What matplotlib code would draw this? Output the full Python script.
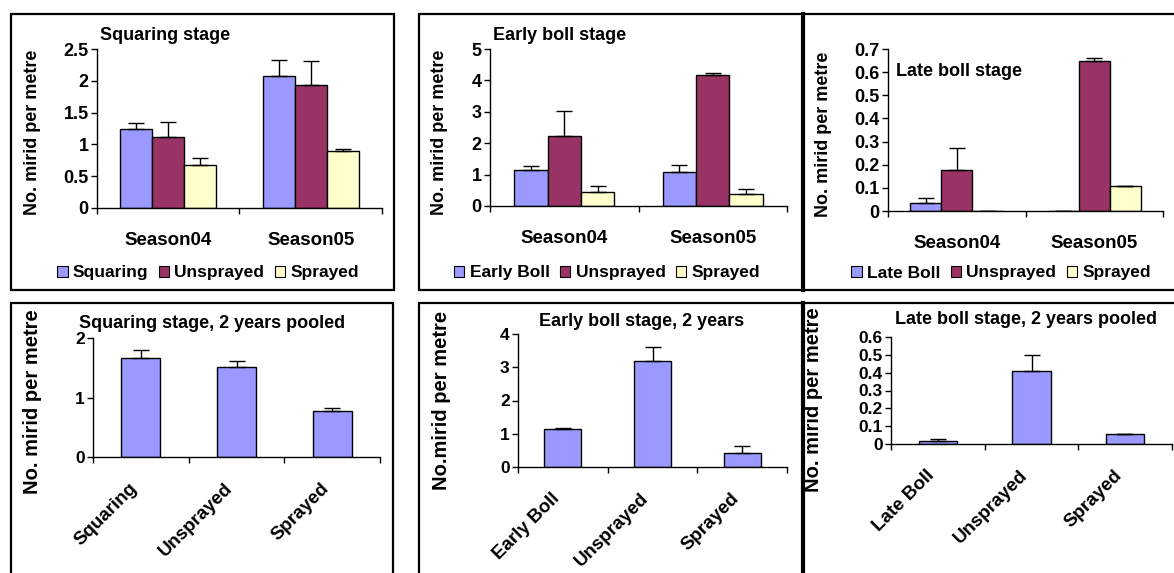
"""Six-panel mirid counts per metre: per season and pooled over two years."""

import matplotlib.pyplot as plt
from matplotlib.patches import Patch, Rectangle
from matplotlib.ticker import FuncFormatter

W, H = 1174, 573

seasons = ["Season04", "Season05"]

# squaring stage, per season
sq_squaring = [1.24, 2.07]
sq_squaring_err = [0.09, 0.26]
sq_unsprayed = [1.11, 1.94]
sq_unsprayed_err = [0.24, 0.37]
sq_sprayed = [0.68, 0.89]
sq_sprayed_err = [0.11, 0.03]

# early boll stage, per season
eb_early = [1.15, 1.09]
eb_early_err = [0.11, 0.22]
eb_unsprayed = [2.23, 4.18]
eb_unsprayed_err = [0.81, 0.06]
eb_sprayed = [0.44, 0.38]
eb_sprayed_err = [0.21, 0.16]

# late boll stage, per season
lb_late = [0.036, 0.0]
lb_late_err = [0.022, 0.0]
lb_unsprayed = [0.176, 0.649]
lb_unsprayed_err = [0.097, 0.013]
lb_sprayed = [0.0, 0.108]
lb_sprayed_err = [0.0, 0.001]

# two years pooled
sq_pool_labels = ["Squaring", "Unsprayed", "Sprayed"]
sq_pool = [1.66, 1.52, 0.77]
sq_pool_err = [0.14, 0.10, 0.06]
eb_pool_labels = ["Early Boll", "Unsprayed", "Sprayed"]
eb_pool = [1.13, 3.20, 0.42]
eb_pool_err = [0.05, 0.42, 0.20]
lb_pool_labels = ["Late Boll", "Unsprayed", "Sprayed"]
lb_pool = [0.019, 0.41, 0.054]
lb_pool_err = [0.007, 0.09, 0.001]

BLUE = "#9999ff"
PLUM = "#993366"
CREAM = "#ffffcc"

plt.rcParams.update(
    {
        "font.family": ["Liberation Sans", "DejaVu Sans"],
        "font.weight": "bold",
        "axes.labelweight": "bold",
        "axes.linewidth": 1.0,
        "xtick.major.width": 1.0,
        "ytick.major.width": 1.0,
    }
)

fig = plt.figure(figsize=(W / 100, H / 100), dpi=100)


def fx(px):
    return px / W


def fy(py):
    return 1 - py / H


def px_axes(left, top, right, bottom):
    return fig.add_axes([fx(left), fy(bottom), fx(right - left), (bottom - top) / H])


def frame(x0, y0, x1, y1, lw=1.6):
    fig.add_artist(
        Rectangle((fx(x0), fy(y1)), fx(x1 - x0), (y1 - y0) / H,
                  transform=fig.transFigure, fill=False, ec="black", lw=lw)
    )


def style_axis(ax, ncat, ymax, ystep, tick_size):
    ax.set_xlim(0, ncat)
    ax.set_ylim(0, ymax)
    ax.spines["top"].set_visible(False)
    ax.spines["right"].set_visible(False)
    ax.set_xticks(range(ncat + 1))
    ax.set_xticklabels([])
    yt = [i * ystep for i in range(int(round(ymax / ystep)) + 1)]
    ax.set_yticks(yt)
    ax.yaxis.set_major_formatter(FuncFormatter(lambda v, p: "%g" % round(v, 3)))
    ax.tick_params(axis="both", which="major", direction="out", length=4.5)
    ax.tick_params(axis="y", labelsize=tick_size, pad=1.5)
    ax.tick_params(axis="x", which="minor", length=0)


def ylab(ax, text, size, px_x, px_yc, left, top, right, bottom):
    ax.set_ylabel(text, fontsize=size)
    ax.yaxis.set_label_coords((px_x - left) / (right - left), (bottom - px_yc) / (bottom - top))


def season_panel(box, series, errs, colors, names, ymax, ystep, tick_size,
                 title, title_xy, yl_xy, leg_xy, ylabel):
    left, top, right, bottom = box
    ax = px_axes(left, top, right, bottom)
    bw = 0.225
    for k, (vals, err, col) in enumerate(zip(series, errs, colors)):
        xs = [i + 0.5 + (k - 1) * bw for i in range(len(vals))]
        ax.bar(xs, vals, width=bw, color=col, edgecolor="black", linewidth=1.0, zorder=2)
        ax.errorbar(xs, vals, yerr=[[0] * len(err), err], fmt="none", ecolor="black",
                    elinewidth=1.0, capsize=6, capthick=1.0, zorder=3)
    style_axis(ax, len(seasons), ymax, ystep, tick_size)
    ax.set_xticks([i + 0.5 for i in range(len(seasons))], minor=True)
    ax.set_xticklabels(seasons, minor=True, fontsize=13.5)
    ax.tick_params(axis="x", which="minor", pad=17)
    fig.text(fx(title_xy[0]), fy(title_xy[1]), title, fontsize=13, ha="left", va="center")
    ylab(ax, ylabel, 13, yl_xy[0], yl_xy[1], left, top, right, bottom)
    handles = [Patch(facecolor=c, edgecolor="black", linewidth=0.8) for c in colors]
    fig.legend(handles, names, loc="center", bbox_to_anchor=(fx(leg_xy[0]), fy(leg_xy[1])),
               ncol=3, frameon=False, handlelength=0.6, handleheight=0.6,
               handletextpad=0.3, columnspacing=0.6, borderaxespad=0, borderpad=0,
               prop={"size": 12.5, "weight": "bold"})
    return ax


def pooled_panel(box, labels, vals, err, ymax, ystep, tick_size, title, title_xy, yl_xy, ylabel):
    left, top, right, bottom = box
    ax = px_axes(left, top, right, bottom)
    xs = [i + 0.5 for i in range(len(vals))]
    ax.bar(xs, vals, width=0.41, color=BLUE, edgecolor="black", linewidth=1.0, zorder=2)
    ax.errorbar(xs, vals, yerr=[[0] * len(err), err], fmt="none", ecolor="black",
                elinewidth=1.0, capsize=6, capthick=1.0, zorder=3)
    style_axis(ax, len(vals), ymax, ystep, tick_size)
    ax.set_xticks(xs, minor=True)
    ax.set_xticklabels(labels, minor=True, fontsize=13.5)
    ax.tick_params(axis="x", which="minor", pad=25)
    for lab in ax.get_xticklabels(minor=True):
        lab.set(rotation=45, ha="right", va="bottom", rotation_mode="anchor")
    fig.text(fx(title_xy[0]), fy(title_xy[1]), title, fontsize=13, ha="center", va="center")
    ylab(ax, ylabel, 14.5, yl_xy[0], yl_xy[1], left, top, right, bottom)
    return ax


# chart frames
frame(11, 14, 394, 290)
frame(419, 14, 803, 290)
frame(803, 14, 1190, 290)
frame(11, 303, 393, 600)
frame(419, 303, 803, 600)
frame(803, 303, 1190, 600)
fig.add_artist(plt.Line2D([fx(803), fx(803)], [fy(14), fy(290)], transform=fig.transFigure,
                          color="black", lw=3))
fig.add_artist(plt.Line2D([fx(803), fx(803)], [fy(303), fy(600)], transform=fig.transFigure,
                          color="black", lw=3))

season_panel((97, 49, 382, 208),
             [sq_squaring, sq_unsprayed, sq_sprayed],
             [sq_squaring_err, sq_unsprayed_err, sq_sprayed_err],
             [BLUE, PLUM, CREAM], ["Squaring", "Unsprayed", "Sprayed"],
             2.5, 0.5, 13, "Squaring stage", (100, 36), (41, 132), (208, 273),
             "No. mirid per metre")

season_panel((490, 49, 787, 206),
             [eb_early, eb_unsprayed, eb_sprayed],
             [eb_early_err, eb_unsprayed_err, eb_sprayed_err],
             [BLUE, PLUM, CREAM], ["Early Boll", "Unsprayed", "Sprayed"],
             5, 1, 13, "Early boll stage", (493, 36), (448, 132), (607, 273),
             "No. mirid per metre")

season_panel((888, 49, 1163, 211),
             [lb_late, lb_unsprayed, lb_sprayed],
             [lb_late_err, lb_unsprayed_err, lb_sprayed_err],
             [BLUE, PLUM, CREAM], ["Late Boll", "Unsprayed", "Sprayed"],
             0.7, 0.1, 13, "Late boll stage", (896, 71), (832, 134), (1001, 273),
             "No. mirid per metre")

pooled_panel((93, 338, 380, 457), sq_pool_labels, sq_pool, sq_pool_err,
             2, 1, 12.5, "Squaring stage, 2 years pooled", (212, 323), (42, 402),
             "No. mirid per metre")

pooled_panel((518, 334, 787, 467), eb_pool_labels, eb_pool, eb_pool_err,
             4, 1, 12.5, "Early boll stage, 2 years", (642, 322), (451, 400),
             "No.mirid per metre")

pooled_panel((891, 337, 1172, 444), lb_pool_labels, lb_pool, lb_pool_err,
             0.6, 0.1, 12.5, "Late boll stage, 2 years pooled", (1026, 319), (823, 400),
             "No. mirid per metre")

fig.savefig("out.png", dpi=100)
